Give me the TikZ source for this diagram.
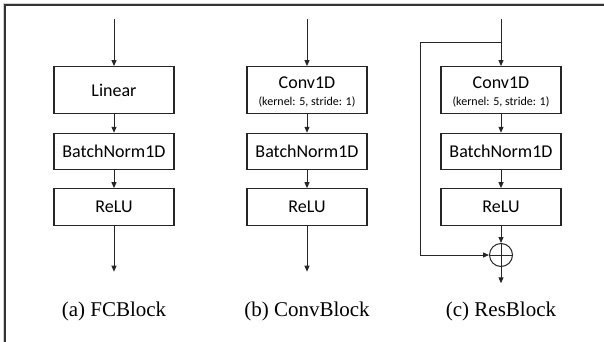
\documentclass[tikz,border=0pt]{standalone}
\usepackage{fontspec}
\setmainfont{Liberation Serif}
\newfontfamily\boxfont{Carlito}
\usetikzlibrary{arrows.meta}
\tikzset{
  blk/.style={draw=black!85, line width=1.1pt, minimum width=120pt, inner sep=0pt, font=\boxfont\fontsize{18}{20}\selectfont},
  lbl/.style={inner sep=0pt},
  smalltxt/.style={inner sep=0pt, font=\boxfont\fontsize{12}{14}\selectfont},
  captxt/.style={inner sep=0pt, font=\fontsize{21}{24}\selectfont},
  flow/.style={draw=black!85, line width=1pt, -{Triangle[length=6pt,width=5pt]}},
  plain/.style={draw=black!85, line width=1pt},
}
\begin{document}
\begin{tikzpicture}[x=1pt,y=-1pt]
\useasboundingbox (0,0) rectangle (604,342);
% frame (cropped)
\draw[gray!35, line width=1pt] (3.5,400) -- (3.5,3.5) -- (700,3.5);
\draw[black!80, line width=1.5pt] (5,400) -- (5,5) -- (700,5);

% ---------- (a) FCBlock ----------
\coordinate (ain) at (114,19);
\node[blk, minimum height=46.7pt] (alin) at (114,90) {Linear};
\node[blk, minimum height=36pt] (abn) at (114,151.3) {BatchNorm1D};
\node[blk, minimum height=36.6pt] (arelu) at (114,207) {ReLU};
\coordinate (aout) at (114,271.7);
\draw[flow] (ain) -- (alin);
\draw[flow] (alin) -- (abn);
\draw[flow] (abn) -- (arelu);
\draw[flow] (arelu) -- (aout);
\node[captxt] (acap) at (114,311.7) {(a) FCBlock};

% ---------- (b) ConvBlock ----------
\coordinate (bin) at (307,19);
\node[blk, minimum height=46.7pt] (bconv) at (307,90) {};
\node[lbl, font=\boxfont\fontsize{18}{20}\selectfont] (bconvt) at (307,83) {Conv1D};
\node[smalltxt] (bconvs) at (307,101.7) {(kernel: 5, stride: 1)};
\node[blk, minimum height=36pt] (bbn) at (307,151.3) {BatchNorm1D};
\node[blk, minimum height=36.6pt] (brelu) at (307,207) {ReLU};
\coordinate (bout) at (307,271.7);
\draw[flow] (bin) -- (bconv);
\draw[flow] (bconv) -- (bbn);
\draw[flow] (bbn) -- (brelu);
\draw[flow] (brelu) -- (bout);
\node[captxt] (bcap) at (307,311.7) {(b) ConvBlock};

% ---------- (c) ResBlock ----------
\coordinate (cin) at (501,19);
\coordinate (csplit) at (501,42.7);
\coordinate (cleft) at (420.7,42.7);
\node[blk, minimum height=46.7pt] (cconv) at (501,90) {};
\node[lbl, font=\boxfont\fontsize{18}{20}\selectfont] (cconvt) at (501,83) {Conv1D};
\node[smalltxt] (cconvs) at (501,101.7) {(kernel: 5, stride: 1)};
\node[blk, minimum height=36pt] (cbn) at (501,151.3) {BatchNorm1D};
\node[blk, minimum height=36.6pt] (crelu) at (501,207) {ReLU};
\node[draw=black!85, line width=1pt, circle, minimum size=23pt, inner sep=0pt] (cadd) at (501,255) {};
\draw[plain] (cadd.north) -- (cadd.south);
\draw[plain] (cadd.west) -- (cadd.east);
\coordinate (cout) at (501,283.3);
\draw[flow] (cin) -- (cconv);
\draw[flow] (cconv) -- (cbn);
\draw[flow] (cbn) -- (crelu);
\draw[flow] (crelu) -- (cadd);
\draw[flow] (csplit) -- (cleft) |- (cadd);
\draw[flow] (cadd) -- (cout);
\node[captxt] (ccap) at (501,311.7) {(c) ResBlock};
\end{tikzpicture}
\end{document}
